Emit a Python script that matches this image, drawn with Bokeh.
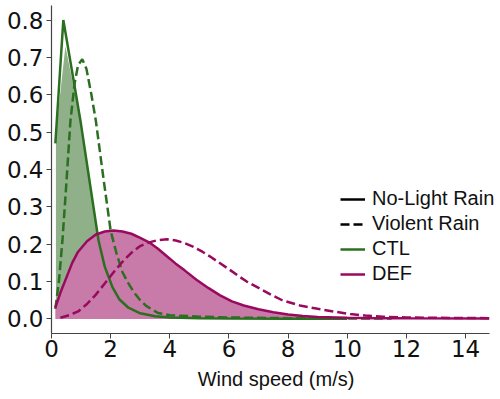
import numpy as np
from bokeh.plotting import figure
from bokeh.models import Legend, LegendItem, Range1d, FixedTicker
from bokeh.embed import file_html
from bokeh.resources import INLINE

# CTL, No-Light Rain (solid)
ctl_nl_x = [0.13, 0.40, 0.98, 1.59, 1.80, 2.06, 2.30, 2.60, 3.0, 3.5, 4.0, 5.0, 6.0, 8.0, 10.0]
ctl_nl_y = [0.47, 0.80, 0.53, 0.21, 0.14, 0.085, 0.052, 0.03, 0.015, 0.007, 0.004, 0.002, 0.001, 0.0005, 0.0003]
# CTL fill (shaded area)
ctl_fill_x = [0.15, 0.47, 0.98, 1.59, 1.80, 2.06, 2.30, 2.60, 3.0, 3.5, 4.0, 5.0, 6.0, 8.0, 10.0]
ctl_fill_y = [0.50, 0.73, 0.53, 0.21, 0.14, 0.085, 0.052, 0.03, 0.015, 0.007, 0.004, 0.002, 0.001, 0.0005, 0.0003]
# CTL, Violent Rain (dashed)
ctl_v_x = [0.13, 0.25, 0.37, 0.50, 0.64, 0.78, 0.90, 1.04, 1.18, 1.35, 1.50, 1.75, 2.00, 2.20, 2.40, 2.60,
           2.80, 3.00, 3.20, 3.60, 4.0, 5.0, 6.0, 8.0, 10.0, 11.5]
ctl_v_y = [0.027, 0.10, 0.21, 0.36, 0.53, 0.63, 0.68, 0.695, 0.67, 0.60, 0.53, 0.38, 0.236, 0.175, 0.125, 0.095,
           0.07, 0.05, 0.035, 0.016, 0.010, 0.006, 0.004, 0.002, 0.001, 0.001]
# DEF, No-Light Rain (solid, shaded)
def_nl_x = [0.13, 0.3, 0.5, 0.7, 0.9, 1.2, 1.5, 1.8, 2.1, 2.4, 2.7, 3.0, 3.3, 3.6, 3.9, 4.2, 4.5, 4.9,
            5.3, 5.7, 6.1, 6.5, 7.0, 7.5, 8.0, 8.5, 9.0, 10.0, 11.0, 12.0, 14.8]
def_nl_y = [0.03, 0.07, 0.11, 0.15, 0.18, 0.208, 0.226, 0.234, 0.237, 0.234, 0.228, 0.217, 0.205, 0.188,
            0.168, 0.148, 0.13, 0.105, 0.083, 0.063, 0.047, 0.036, 0.026, 0.018, 0.012, 0.008, 0.005,
            0.003, 0.002, 0.0015, 0.001]
# DEF, Violent Rain (dashed)
def_v_x = [0.3, 0.6, 0.9, 1.2, 1.5, 1.8, 2.1, 2.4, 2.7, 3.0, 3.3, 3.6, 3.9, 4.2, 4.5, 4.8, 5.1, 5.4,
           5.7, 6.0, 6.3, 6.6, 7.0, 7.4, 7.8, 8.4, 9.0, 9.6, 10.1, 10.6, 11.2, 12.0, 13.0, 14.8]
def_v_y = [0.003, 0.01, 0.02, 0.04, 0.065, 0.095, 0.125, 0.153, 0.177, 0.195, 0.205, 0.211, 0.213, 0.21,
           0.203, 0.193, 0.18, 0.165, 0.149, 0.133, 0.116, 0.10, 0.083, 0.066, 0.05, 0.036, 0.027, 0.019,
           0.013, 0.009, 0.006, 0.004, 0.003, 0.002]

x_ticks = [0, 2, 4, 6, 8, 10, 12, 14]
y_ticks = [0.0, 0.1, 0.2, 0.3, 0.4, 0.5, 0.6, 0.7, 0.8]
legend_labels = ["No-Light Rain", "Violent Rain", "CTL", "DEF"]

GREEN = "#2b6f20"
PINK = "#990a5f"
GREEN_FILL = "#8fb088"
PINK_FILL = "#c87aa8"

# frame runs to the right canvas edge so the legend text is not clipped;
# the visible x axis line is limited with bounds (0 .. 14.81)
p = figure(width=500, height=399, output_backend="svg", toolbar_location=None,
           x_range=Range1d(0, 15.18), y_range=Range1d(-0.039, 0.839),
           min_border_left=51, min_border_right=0, min_border_top=5, min_border_bottom=66)
p.outline_line_color = None
p.xgrid.visible = False
p.ygrid.visible = False
p.background_fill_color = "white"

p.varea(x=ctl_fill_x, y1=np.zeros(len(ctl_fill_x)), y2=ctl_fill_y, fill_color=GREEN_FILL)
p.varea(x=def_nl_x, y1=np.zeros(len(def_nl_x)), y2=def_nl_y, fill_color=PINK_FILL)

p.line(ctl_nl_x, ctl_nl_y, line_color=GREEN, line_width=2.5)
p.line(ctl_v_x, ctl_v_y, line_color=GREEN, line_width=2.5, line_dash="9 4")
p.line(def_nl_x, def_nl_y, line_color=PINK, line_width=2.5)
p.line(def_v_x, def_v_y, line_color=PINK, line_width=2.5, line_dash="9 4")

# legend proxies (kept outside the visible range)
far = [-100, -99]
r1 = p.line(far, far, line_color="black", line_width=2.5)
r2 = p.line(far, far, line_color="black", line_width=2.5, line_dash="9 4")
r3 = p.line(far, far, line_color=GREEN, line_width=2.5)
r4 = p.line(far, far, line_color=PINK, line_width=2.5)

legend = Legend(items=[LegendItem(label=lab, renderers=[r]) for lab, r in zip(legend_labels, [r1, r2, r3, r4])],
                location=(289, 48), padding=0, margin=0, spacing=2,
                glyph_width=25, glyph_height=20, label_height=20, label_standoff=7,
                label_text_font="Liberation Sans", label_text_font_size="20px",
                label_text_color="#111111",
                border_line_alpha=0, background_fill_alpha=0)
p.add_layout(legend)

for ax in (p.xaxis[0], p.yaxis[0]):
    ax.axis_line_color = "#444444"
    ax.axis_line_width = 1.2
    ax.major_tick_line_color = "#444444"
    ax.major_tick_out = 5
    ax.major_tick_in = 0
    ax.minor_tick_line_color = None
    ax.major_label_text_font = "DejaVu Sans"
    ax.major_label_text_font_size = "23px"
    ax.major_label_text_color = "#111111"

p.xaxis.bounds = (0, 14.81)
p.yaxis.major_label_standoff = 3
p.xaxis.major_label_standoff = 1
p.xaxis.ticker = FixedTicker(ticks=x_ticks)
p.yaxis.ticker = FixedTicker(ticks=y_ticks)
p.yaxis.major_label_overrides = {t: f"{t:.1f}" for t in y_ticks}
p.xaxis.axis_label = "Wind speed (m/s)"
p.xaxis.axis_label_text_font = "Liberation Sans"
p.xaxis.axis_label_text_font_size = "20px"
p.xaxis.axis_label_text_font_style = "normal"
p.xaxis.axis_label_text_color = "#111111"
p.xaxis.axis_label_standoff = 8

open("out.html", "w").write(file_html(p, INLINE))
